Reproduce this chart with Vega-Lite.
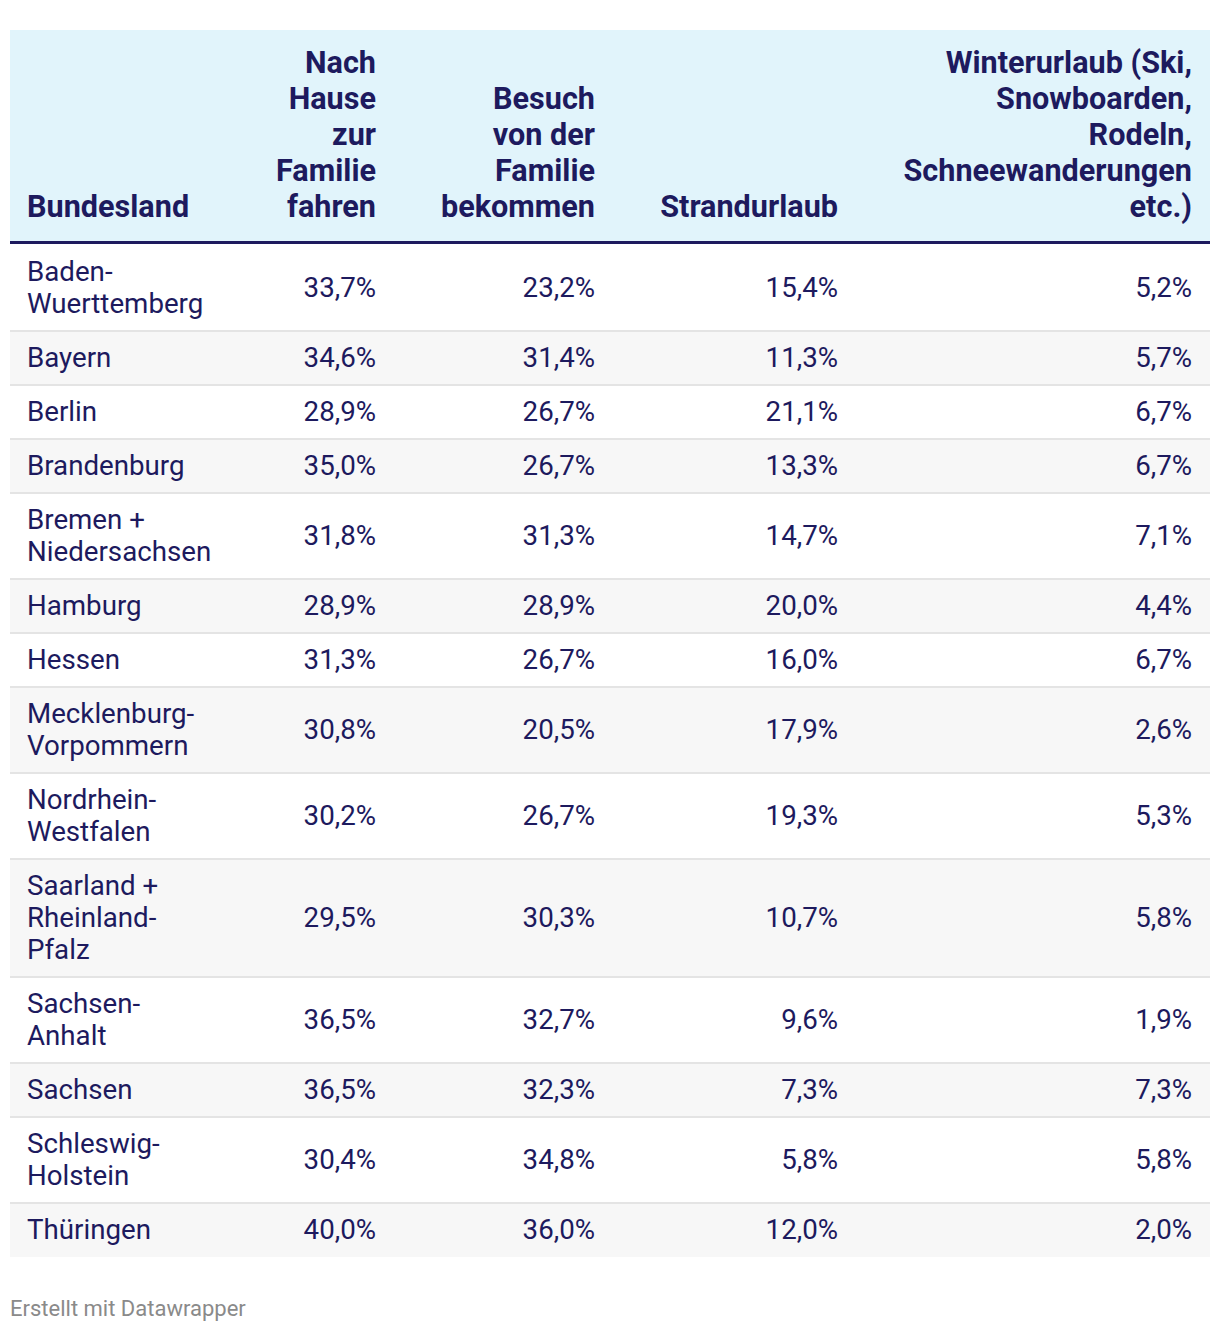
{
  "$schema": "https://vega.github.io/schema/vega-lite/v6.json",
  "width": 1200,
  "height": 1227,
  "padding": {"left": 10, "top": 30, "right": 10, "bottom": 75},
  "autosize": {"type": "none"},
  "background": "#ffffff",
  "config": {
    "view": {"stroke": null},
    "font": "Roboto",
    "locale": {"number": {"decimal": ",", "thousands": ".", "grouping": [3], "currency": ["", " €"]}},
    "axis": {"disable": true}
  },
  "title": {
    "text": "Erstellt mit Datawrapper",
    "orient": "bottom",
    "anchor": "start",
    "frame": "group",
    "font": "Roboto",
    "fontSize": 22,
    "fontWeight": "normal",
    "color": "#8a8a8a",
    "offset": 42,
    "dx": 0
  },
  "datasets": {
    "rows": [
      {"land": ["Baden-", "Wuerttemberg"], "a": 0.337, "b": 0.232, "c": 0.154, "d": 0.052},
      {"land": ["Bayern"], "a": 0.346, "b": 0.314, "c": 0.113, "d": 0.057},
      {"land": ["Berlin"], "a": 0.289, "b": 0.267, "c": 0.211, "d": 0.067},
      {"land": ["Brandenburg"], "a": 0.350, "b": 0.267, "c": 0.133, "d": 0.067},
      {"land": ["Bremen +", "Niedersachsen"], "a": 0.318, "b": 0.313, "c": 0.147, "d": 0.071},
      {"land": ["Hamburg"], "a": 0.289, "b": 0.289, "c": 0.200, "d": 0.044},
      {"land": ["Hessen"], "a": 0.313, "b": 0.267, "c": 0.160, "d": 0.067},
      {"land": ["Mecklenburg-", "Vorpommern"], "a": 0.308, "b": 0.205, "c": 0.179, "d": 0.026},
      {"land": ["Nordrhein-", "Westfalen"], "a": 0.302, "b": 0.267, "c": 0.193, "d": 0.053},
      {"land": ["Saarland +", "Rheinland-", "Pfalz"], "a": 0.295, "b": 0.303, "c": 0.107, "d": 0.058},
      {"land": ["Sachsen-", "Anhalt"], "a": 0.365, "b": 0.327, "c": 0.096, "d": 0.019},
      {"land": ["Sachsen"], "a": 0.365, "b": 0.323, "c": 0.073, "d": 0.073},
      {"land": ["Schleswig-", "Holstein"], "a": 0.304, "b": 0.348, "c": 0.058, "d": 0.058},
      {"land": ["Thüringen"], "a": 0.400, "b": 0.360, "c": 0.120, "d": 0.020}
    ],
    "headers": [
      {"col": 0, "title": ["Bundesland"]},
      {"col": 1, "title": ["Nach", "Hause", "zur", "Familie", "fahren"]},
      {"col": 2, "title": ["Besuch", "von der", "Familie", "bekommen"]},
      {"col": 3, "title": ["Strandurlaub"]},
      {"col": 4, "title": ["Winterurlaub (Ski,", "Snowboarden,", "Rodeln,", "Schneewanderungen", "etc.)"]}
    ]
  },
  "data": {"name": "rows"},
  "transform": [
    {"calculate": "length(datum.land)", "as": "lines"},
    {"window": [{"op": "row_number", "as": "i"}, {"op": "sum", "field": "lines", "as": "cum"}]},
    {"calculate": "215 + 22 * (datum.i - 1) + 32 * (datum.cum - datum.lines)", "as": "top"},
    {"calculate": "datum.top + 22 + 32 * datum.lines", "as": "bottom"},
    {"calculate": "(datum.top + datum.bottom) / 2", "as": "mid"},
    {"calculate": "datum.mid - 16 * (datum.lines - 1)", "as": "firstline"}
  ],
  "layer": [
    {
      "data": {"values": [{}]},
      "transform": [],
      "mark": {"type": "rect", "fill": "#e1f4fb"},
      "encoding": {
        "y": {"datum": 0, "type": "quantitative", "scale": {"domain": [0, 1227], "reverse": true, "nice": false, "zero": false}},
        "y2": {"datum": 211}
      }
    },
    {
      "data": {"values": [{}]},
      "transform": [],
      "mark": {"type": "rule", "stroke": "#1d1a5e", "strokeWidth": 3},
      "encoding": {"y": {"datum": 212.5, "type": "quantitative"}}
    },
    {
      "transform": [{"filter": "datum.i % 2 == 0"}],
      "mark": {"type": "rect", "fill": "#f7f7f7"},
      "encoding": {
        "y": {"field": "top", "type": "quantitative"},
        "y2": {"field": "bottom"}
      }
    },
    {
      "transform": [{"filter": "datum.i > 1"}],
      "mark": {"type": "rule", "stroke": "#e4e4e4", "strokeWidth": 2},
      "encoding": {"y": {"field": "top", "type": "quantitative"}}
    },
    {
      "mark": {"type": "text", "align": "left", "baseline": "middle", "fontSize": 27.7, "lineHeight": 32, "color": "#1d1a5e", "dy": 1},
      "encoding": {
        "x": {"datum": 0, "type": "quantitative", "scale": {"domain": [0, 1, 2, 3, 4], "range": [17, 366, 585, 828, 1182], "nice": false, "zero": false}},
        "y": {"field": "firstline", "type": "quantitative"},
        "text": {"field": "land", "type": "nominal"}
      }
    },
    {
      "transform": [
        {"fold": ["a", "b", "c", "d"], "as": ["key", "value"]},
        {"calculate": "indexof(['a','b','c','d'], datum.key) + 1", "as": "col"}
      ],
      "mark": {"type": "text", "align": "right", "baseline": "middle", "fontSize": 27.7, "color": "#1d1a5e", "dy": 1},
      "encoding": {
        "x": {"field": "col", "type": "quantitative"},
        "y": {"field": "mid", "type": "quantitative"},
        "text": {"field": "value", "type": "quantitative", "format": ".1%"}
      }
    },
    {
      "data": {"name": "headers"},
      "transform": [
        {"filter": "datum.col == 0"},
        {"calculate": "187 - 36 * (length(datum.title) - 1)", "as": "hy"}
      ],
      "mark": {"type": "text", "align": "left", "baseline": "alphabetic", "fontSize": 30.6, "fontWeight": "bold", "lineHeight": 36, "color": "#1d1a5e"},
      "encoding": {
        "x": {"field": "col", "type": "quantitative"},
        "y": {"field": "hy", "type": "quantitative"},
        "text": {"field": "title", "type": "nominal"}
      }
    },
    {
      "data": {"name": "headers"},
      "transform": [
        {"filter": "datum.col > 0"},
        {"calculate": "187 - 36 * (length(datum.title) - 1)", "as": "hy"}
      ],
      "mark": {"type": "text", "align": "right", "baseline": "alphabetic", "fontSize": 30.6, "fontWeight": "bold", "lineHeight": 36, "color": "#1d1a5e"},
      "encoding": {
        "x": {"field": "col", "type": "quantitative"},
        "y": {"field": "hy", "type": "quantitative"},
        "text": {"field": "title", "type": "nominal"}
      }
    }
  ]
}
